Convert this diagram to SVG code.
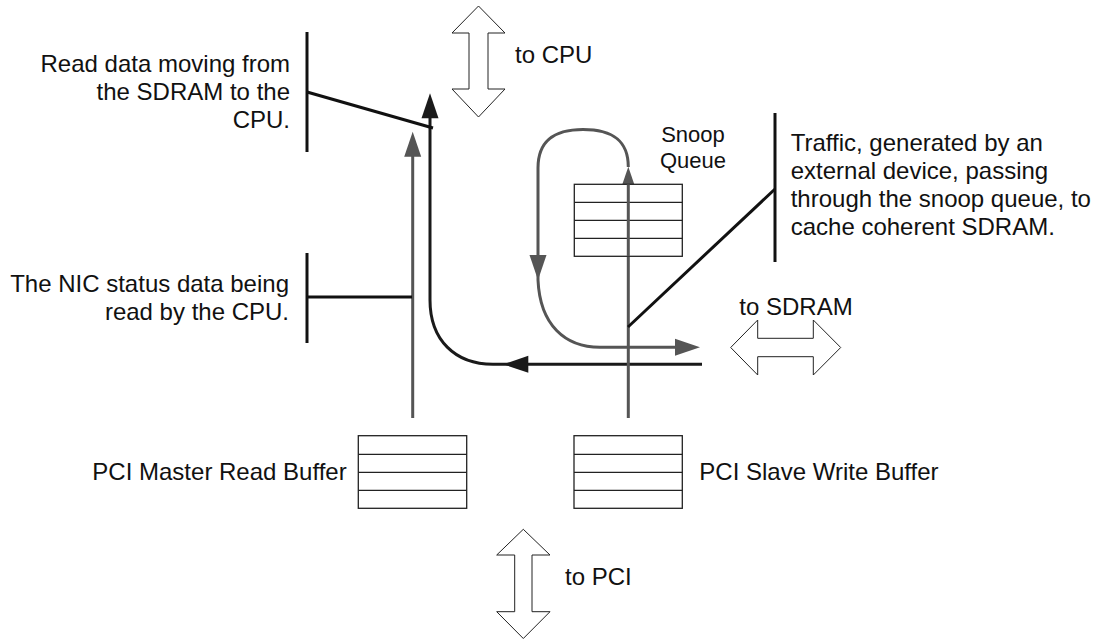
<svg xmlns="http://www.w3.org/2000/svg" width="1097" height="639" viewBox="0 0 1097 639">
  <style>
    text { font-family: "Liberation Sans", Arial, sans-serif; font-size: 24px; fill: #111; }
    .end { text-anchor: end; }
    .mid { text-anchor: middle; }
    .small { font-size: 22px; }
    .buf { fill: #fff; stroke: #222; stroke-width: 1.3; }
    .row { stroke: #222; stroke-width: 1.3; fill: none; }
    .port { fill: #fff; stroke: #222; stroke-width: 1; stroke-linejoin: miter; }
    .lead { stroke: #111; stroke-width: 3; fill: none; }
    .flow-grey { stroke: #555; stroke-width: 3; fill: none; }
    .flow-black { stroke: #1a1a1a; stroke-width: 3; fill: none; }
    .head-grey { fill: #555; }
    .head-black { fill: #1a1a1a; }
  </style>
  <defs>
    <!-- arrowhead pointing up, tip at the origin -->
    <path id="head" d="M0,0 L-8.5,25 L8.5,25 Z"/>
  </defs>

  <rect width="1097" height="639" fill="#fff"/>

  <!-- connectors: data flows -->
  <g id="connectors">
    <!-- NIC status read path (grey, up from master read buffer) -->
    <line class="flow-grey" x1="412.7" y1="418" x2="412.7" y2="150"/>
    <use href="#head" class="head-grey" transform="translate(412.7,131.7)"/>

    <!-- SDRAM to CPU read path (black) -->
    <path class="flow-black" d="M702,364.3 L493,364.3 C455,364.3 430,340 430,300 L430,112"/>
    <use href="#head" class="head-black" transform="translate(430,93.3)"/>
    <use href="#head" class="head-black" transform="translate(503.3,364.3) rotate(-90)"/>

    <!-- external device traffic through the snoop queue (grey) -->
    <line class="flow-grey" x1="628.3" y1="418" x2="628.3" y2="186"/>
    <use href="#head" class="head-grey" transform="translate(628.3,166.7)"/>
    <path class="flow-grey" d="M628.3,167 C628.3,140 612,129.5 583,129.5 C555,129.5 538,140 538,168 L538,280 C540,325 565,347.3 600,347.3 L680,347.3"/>
    <use href="#head" class="head-grey" transform="translate(538,280) rotate(180)"/>
    <use href="#head" class="head-grey" transform="translate(700,347.3) rotate(90)"/>
  </g>

  <!-- host ports -->
  <g id="port-cpu">
    <polygon class="port" points="478.5,6 505,33 488,33 488,89 505,89 478.5,117 452,89 469,89 469,33 452,33"/>
    <text x="515" y="63">to CPU</text>
  </g>
  <g id="port-sdram">
    <polygon class="port" points="730.7,347.5 757.7,320 757.7,338.3 813.3,338.3 813.3,320 840.7,347.5 813.3,375 813.3,356.7 757.7,356.7 757.7,375"/>
    <text x="739.3" y="315">to SDRAM</text>
  </g>
  <g id="port-pci">
    <polygon class="port" points="523.3,529.3 550,555 532,555 532,611.7 550,611.7 523.3,638.5 496.7,611.7 514.7,611.7 514.7,555 496.7,555"/>
    <text x="565" y="585">to PCI</text>
  </g>

  <!-- buffers -->
  <g id="snoop-queue">
    <rect class="buf" x="574.3" y="184.3" width="108" height="72"/>
    <path class="row" d="M574.3,202.3 H682.3 M574.3,220.3 H682.3 M574.3,238.3 H682.3"/>
    <line class="flow-grey" x1="628.3" y1="184.3" x2="628.3" y2="256.3"/>
    <text class="mid small" x="693" y="142">Snoop</text>
    <text class="mid small" x="693" y="168">Queue</text>
  </g>
  <g id="master-read-buffer">
    <rect class="buf" x="358.3" y="435.7" width="108.4" height="72.6"/>
    <path class="row" d="M358.3,454.3 H466.7 M358.3,472.3 H466.7 M358.3,490.3 H466.7"/>
    <text class="end" x="346.7" y="480">PCI Master Read Buffer</text>
  </g>
  <g id="slave-write-buffer">
    <rect class="buf" x="574" y="435.7" width="108.3" height="72.6"/>
    <path class="row" d="M574,454.3 H682.3 M574,472.3 H682.3 M574,490.3 H682.3"/>
    <text x="699.3" y="480">PCI Slave Write Buffer</text>
  </g>

  <!-- callouts -->
  <g id="note-read-data">
    <line class="lead" x1="307" y1="32" x2="307" y2="152"/>
    <line class="lead" x1="307" y1="92" x2="433" y2="128"/>
    <text class="end" x="290" y="71.5">Read data moving from</text>
    <text class="end" x="290" y="99.5">the SDRAM to the</text>
    <text class="end" x="290" y="127.5">CPU.</text>
  </g>
  <g id="note-nic-status">
    <line class="lead" x1="307" y1="253" x2="307" y2="343"/>
    <line class="lead" x1="307" y1="297" x2="412" y2="297"/>
    <text class="end" x="289" y="291.7">The NIC status data being</text>
    <text class="end" x="289" y="320">read by the CPU.</text>
  </g>
  <g id="note-snoop-traffic">
    <line class="lead" x1="775" y1="113" x2="775" y2="262"/>
    <line class="lead" x1="775" y1="189" x2="628" y2="327"/>
    <text x="790.7" y="151">Traffic, generated by an</text>
    <text x="790.7" y="179">external device, passing</text>
    <text x="790.7" y="207">through the snoop queue, to</text>
    <text x="790.7" y="235">cache coherent SDRAM.</text>
  </g>
</svg>
